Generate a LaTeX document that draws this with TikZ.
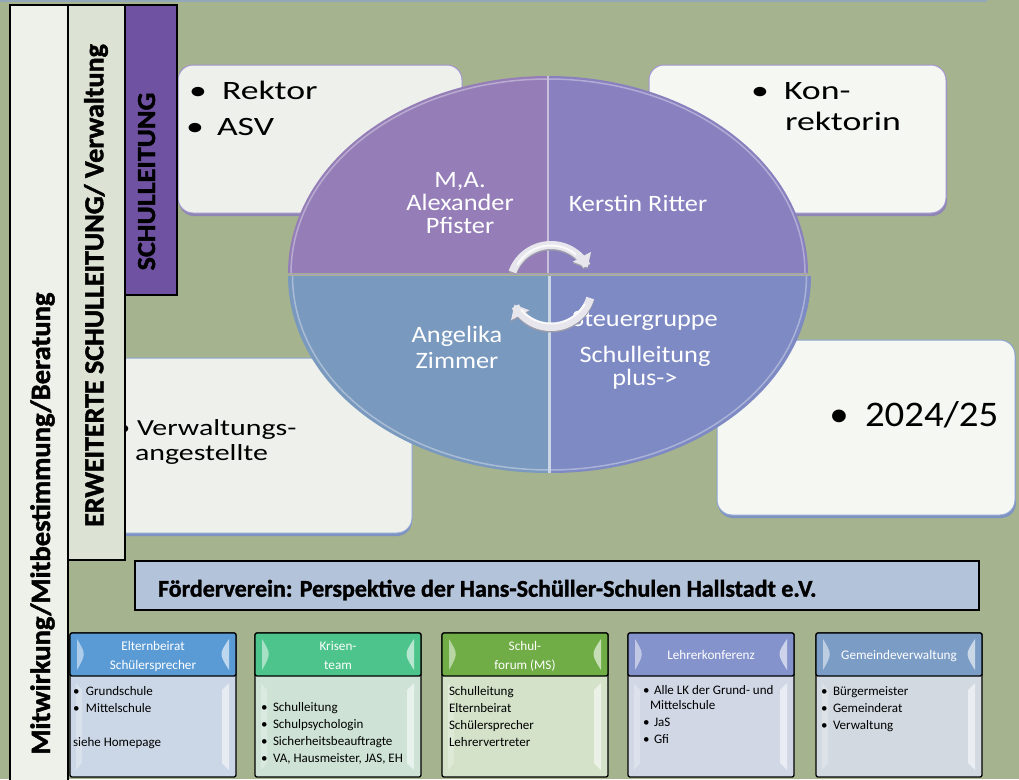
\documentclass[tikz,border=0pt]{standalone}
\usepackage{fontspec}
\setmainfont{Carlito}[BoldFont={Carlito Bold}]
\newfontfamily\fTop[FakeStretch=1.35]{Carlito}
\newfontfamily\fMid[FakeStretch=1.3]{Carlito}
\newfontfamily\fCirc[FakeStretch=1.12]{Carlito}
\newfontfamily\fYear[FakeStretch=1.08]{Carlito}
\newfontfamily\fVertB[FakeStretch=1.02,FakeBold=1.6]{Carlito Bold}
\newfontfamily\fSLB[FakeStretch=1.08,FakeBold=1.6]{Carlito Bold}
\newfontfamily\fBold[FakeBold=1.4]{Carlito Bold}
\usetikzlibrary{arrows.meta}
\definecolor{bg}{HTML}{A5B38E}
\definecolor{topline}{HTML}{93A8B8}
\definecolor{wboxA}{HTML}{EEF0EB}
\definecolor{wboxB}{HTML}{F5F7F2}
\definecolor{edgeP}{HTML}{A496CE}
\definecolor{edgeB}{HTML}{8FA5D2}
\definecolor{shadP}{HTML}{8E86B4}
\definecolor{shadB}{HTML}{7F93C2}
\definecolor{qTL}{HTML}{957EB8}
\definecolor{qTR}{HTML}{8880BF}
\definecolor{qBL}{HTML}{7A99BF}
\definecolor{qBR}{HTML}{7E8AC4}
\definecolor{barA}{HTML}{EEF1EA}
\definecolor{barB}{HTML}{DCE2D4}
\definecolor{barC}{HTML}{6F52A1}
\definecolor{fv}{HTML}{B3C3DA}
\definecolor{hA}{HTML}{5B9BD5}
\definecolor{hB}{HTML}{4DC48B}
\definecolor{hC}{HTML}{70AD47}
\definecolor{hD}{HTML}{8493CC}
\definecolor{hE}{HTML}{7B9CC5}
\definecolor{bA}{HTML}{CBD7E6}
\definecolor{bB}{HTML}{CEE3D6}
\definecolor{bC}{HTML}{D4E2C9}
\definecolor{bD}{HTML}{D1D7E5}
\definecolor{bE}{HTML}{D2D9E1}
\definecolor{ringlight}{HTML}{E6E6EC}
\definecolor{ringdark}{HTML}{9C9CAA}
\begin{document}
\begin{tikzpicture}[x=1pt,y=-1pt,
  every node/.style={inner sep=0pt,outer sep=0pt},
  wbox/.style={rounded corners=15pt,line width=1pt,anchor=north west},
  toptext/.style={font=\fTop\fontsize{26.5}{30}\selectfont,text=black},
  midtext/.style={font=\fMid\fontsize{23}{27}\selectfont,text=black},
  circtext/.style={font=\fCirc\fontsize{23.5}{27}\selectfont,text=white,anchor=base},
  vtext/.style={rotate=90,anchor=base,text=black},
  bodybox/.style={draw=black,line width=1.3pt,rounded corners=2pt,anchor=north west,minimum width=166pt,minimum height=144pt},
  hdrbox/.style={draw=black,line width=1.3pt,rounded corners=2pt,anchor=north west,minimum width=166pt,minimum height=43pt},
  htext/.style={font=\fontsize{13.2}{15}\selectfont,text=white,anchor=base},
  btext/.style={font=\fontsize{13}{15}\selectfont,text=black,anchor=base west},
  ringarrow/.style={line width=8pt,-{Triangle[width=20pt,length=12pt]}}
]
\useasboundingbox (0,0) rectangle (1019,779);
\fill[bg] (0,0) rectangle (1019,779);
\fill[topline] (0,0) rectangle (987,2);

% ---------- white boxes ----------
\fill[shadP,rounded corners=15pt] (179,68) rectangle (462,216);
\node[wbox,draw=edgeP,fill=wboxA,minimum width=284pt,minimum height=148pt] (rekbox) at (178,65) {};
\fill[shadP,rounded corners=15pt] (650,68) rectangle (947,216);
\node[wbox,draw=edgeP,fill=wboxB,minimum width=297pt,minimum height=148pt] (konbox) at (649,65) {};
\fill[shadB,rounded corners=15pt] (100,361) rectangle (412,536);
\node[wbox,draw=edgeB,fill=wboxA,minimum width=312pt,minimum height=175pt] (verbox) at (100,358) {};
\fill[shadB,rounded corners=15pt] (718,343) rectangle (1016,518);
\node[wbox,draw=edgeB,fill=wboxB,minimum width=298pt,minimum height=175pt] (yearbox) at (717,340) {};

\node[toptext,anchor=base] (bu1) at (198,99.5) {•};
\node[toptext,anchor=base west] (rektor) at (222,99.5) {Rektor};
\node[toptext,anchor=base] (bu2) at (195,135.5) {•};
\node[toptext,anchor=base west] (asv) at (217,135.5) {ASV};
\node[toptext,anchor=base] (bu3) at (760,99) {•};
\node[toptext,anchor=base west] (kon) at (784,99) {Kon-};
\node[toptext,anchor=base west] (rektorin) at (785,130.7) {rektorin};
\node[midtext,anchor=base] (bu4) at (123,435) {•};
\node[midtext,anchor=base west] (verw) at (137,435) {Verwaltungs-};
\node[midtext,anchor=base west] (angest) at (135,460) {angestellte};
\node[font=\fYear\fontsize{36}{40}\selectfont,anchor=base] (bu5) at (839,426.7) {•};
\node[font=\fYear\fontsize{36}{40}\selectfont,anchor=base west] (year) at (865,426.7) {2024/25};

% ---------- circle ----------
\fill[qTL] (548,273) -- plot[domain=90:180,samples=60] ({548+260*cos(\x)},{273-197*sin(\x)}) -- cycle;
\fill[qTR] (548,273) -- plot[domain=0:90,samples=60] ({548+260*cos(\x)},{273-197*sin(\x)}) -- cycle;
\fill[qBL] (548,276) -- plot[domain=180:270,samples=60] ({548+260*cos(\x)},{276-197*sin(\x)}) -- cycle;
\fill[qBR] (551,276) -- plot[domain=270:360,samples=60] ({551+260*cos(\x)},{276-197*sin(\x)}) -- cycle;
\draw[white,opacity=.35,line width=1.5pt] plot[domain=0:180,samples=90] ({548+257*cos(\x)},{273-194*sin(\x)});
\draw[white,opacity=.35,line width=1.5pt] plot[domain=180:360,samples=90] ({549.5+257*cos(\x)},{276-194*sin(\x)});
\draw[color=qTL!50!white,line width=2pt] (548,76) -- (548,273);
\draw[color=qBL!40!white,line width=2.5pt] (549.5,276) -- (549.5,473);
\draw[color=qTL!75!white,line width=1.5pt] (289,274.3) -- (808,274.3);

\node[circtext] (ma) at (460,187) {M,A.};
\node[circtext] (alex) at (460,210) {Alexander};
\node[circtext] (pf) at (460,233) {Pfister};
\node[circtext] (kr) at (638,211.7) {Kerstin Ritter};
\node[circtext] (ang) at (457,342) {Angelika};
\node[circtext] (zim) at (457,368) {Zimmer};
\node[circtext] (steu) at (645,326) {Steuergruppe};
\node[circtext] (sl) at (645,362.7) {Schulleitung};
\node[circtext] (plus) at (645,385.5) {plus->};

% ring arrows
\draw[ringarrow,ringdark] plot[domain=160:27,samples=50] ({551+41*cos(\x)},{287.5-41*sin(\x)});
\draw[ringarrow,ringlight] plot[domain=160:27,samples=50] ({551+41*cos(\x)},{286-41*sin(\x)});
\draw[ringarrow,ringdark] plot[domain=-17:-153,samples=50] ({551+41*cos(\x)},{287.5-41*sin(\x)});
\draw[ringarrow,ringlight] plot[domain=-17:-153,samples=50] ({551+41*cos(\x)},{286-41*sin(\x)});
\draw[white,line width=2pt,opacity=.8] plot[domain=150:50,samples=40] ({551+39*cos(\x)},{284.5-39*sin(\x)});
\draw[white,line width=2pt,opacity=.8] plot[domain=-30:-140,samples=40] ({551+39*cos(\x)},{284.5-39*sin(\x)});

% ---------- left bars ----------
\draw[black,line width=2pt,fill=barA] (10,5) rectangle (68,790);
\draw[black,line width=2pt,fill=barB] (68,5) rectangle (125,560);
\draw[black,line width=2pt,fill=barC] (125,5) rectangle (177,295);
\node[vtext,font=\fVertB\fontsize{28}{30}\selectfont] (mitw) at (50,523.5) {Mitwirkung/Mitbestimmung/Beratung};
\node[vtext,font=\fVertB\fontsize{27.5}{30}\selectfont] (erw) at (103.3,285.5) {ERWEITERTE SCHULLEITUNG/ Verwaltung};
\node[vtext,font=\fSLB\fontsize{26}{30}\selectfont] (sltg) at (155,181.5) {SCHULLEITUNG};

% ---------- Foerderverein ----------
\node[draw=black,line width=1.5pt,fill=fv,anchor=north west,minimum width=844pt,minimum height=49pt] (fvbox) at (135,561) {};
\node[font=\fBold\fontsize{24}{26}\selectfont,anchor=base west] (fvtext) at (158,596.7) {Förderverein: Perspektive der Hans-Schüller-Schulen Hallstadt e.V.};

% ---------- bottom boxes ----------
\foreach \i/\L/\hc/\bc in {1/70/hA/bA,2/255/hB/bB,3/442/hC/bC,4/628/hD/bD,5/816/hE/bE}{
  \node[bodybox,fill=\bc] (box\i) at (\L,633) {};
  \fill[white,opacity=.55] (\L+159,683) -- (\L+159,770) -- (\L+152,763) -- (\L+152,690) -- cycle;
  \fill[white,opacity=.25] (\L+6,683) -- (\L+12,690) -- (\L+12,763) -- (\L+6,770) -- cycle;
  \node[hdrbox,fill=\hc] (hdr\i) at (\L,633) {};
  \fill[white,opacity=.5] (\L+7,639) .. controls (\L+16,654) .. (\L+7,670) -- cycle;
  \fill[white,opacity=.6] (\L+159,639) .. controls (\L+149,654) .. (\L+159,670) -- cycle;
}
\node[htext] (h1a) at (153,650) {Elternbeirat};
\node[htext] (h1b) at (153,669) {Schülersprecher};
\node[htext] (h2a) at (338,650) {Krisen-};
\node[htext] (h2b) at (338,669) {team};
\node[htext] (h3a) at (525,650) {Schul-};
\node[htext] (h3b) at (525,669) {forum (MS)};
\node[htext] (h4) at (711,659) {Lehrerkonferenz};
\node[htext] (h5) at (899,659) {Gemeindeverwaltung};

\node[btext] (t11) at (73,695) {\makebox[13pt][l]{•}Grundschule};
\node[btext] (t12) at (73,712) {\makebox[13pt][l]{•}Mittelschule};
\node[btext] (t13) at (73,746) {siehe Homepage};
\node[btext] (t21) at (261,711.7) {\makebox[12pt][l]{•}Schulleitung};
\node[btext] (t22) at (261,728.7) {\makebox[12pt][l]{•}Schulpsychologin};
\node[btext] (t23) at (261,745.7) {\makebox[12pt][l]{•}Sicherheitsbeauftragte};
\node[btext] (t24) at (261,762.7) {\makebox[12pt][l]{•}VA, Hausmeister, JAS, EH};
\node[btext] (t31) at (449,695) {Schulleitung};
\node[btext] (t32) at (449,712) {Elternbeirat};
\node[btext] (t33) at (449,729) {Schülersprecher};
\node[btext] (t34) at (449,746) {Lehrervertreter};
\node[btext] (t41) at (643,694) {\makebox[11pt][l]{•}Alle LK der Grund- und};
\node[btext] (t42) at (650,709.5) {Mittelschule};
\node[btext] (t43) at (643,726.7) {\makebox[11pt][l]{•}JaS};
\node[btext] (t44) at (643,743.5) {\makebox[11pt][l]{•}Gfi};
\node[btext] (t51) at (821,695) {\makebox[12pt][l]{•}Bürgermeister};
\node[btext] (t52) at (821,712) {\makebox[12pt][l]{•}Gemeinderat};
\node[btext] (t53) at (821,729) {\makebox[12pt][l]{•}Verwaltung};
\end{tikzpicture}
\end{document}
